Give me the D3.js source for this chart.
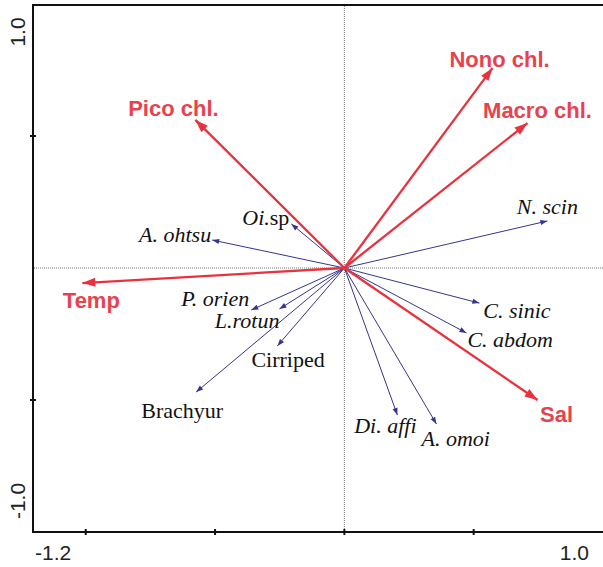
<!DOCTYPE html>
<html>
<head>
<meta charset="utf-8">
<script src="https://cdn.jsdelivr.net/npm/d3@7"></script>
<style>
  html, body { margin: 0; padding: 0; background: #fff; }
</style>
</head>
<body>
<div id="chartContainer"></div>
<script>
// Environmental variables (red arrows)
const envNames = ["Pico chl.", "Nono chl.", "Macro chl.", "Temp", "Sal"];
const envX = [-0.576, 0.573, 0.708, -1.013, 0.747];
const envY = [0.561, 0.758, 0.549, -0.057, -0.500];

// Species (blue arrows)
const spNames = ["A. ohtsu", "Oi.sp", "P. orien", "L.rotun", "Cirriped", "Brachyur",
                 "N. scin", "C. sinic", "C. abdom", "Di. affi", "A. omoi"];
// italic part of each name (rest is roman)
const spItalic = ["A. ohtsu", "Oi.", "P. orien", "L.rotun", "", "",
                  "N. scin", "C. sinic", "C. abdom", "Di. affi", "A. omoi"];
const spX = [-0.511, -0.205, -0.360, -0.251, -0.259, -0.573, 0.785, 0.522, 0.472, 0.205, 0.356];
const spY = [0.106, 0.167, -0.159, -0.155, -0.295, -0.470, 0.178, -0.133, -0.246, -0.557, -0.591];

// axis ticks
const xTicks = [-1.0, -0.5, 0, 0.5];
const yTicks = [-0.5, 0.5];
const xTickLabels = ["-1.2", "1.0"];
const yTickLabels = ["-1.0", "1.0"];

// label placement relative to arrow tip (px): [dx, dy, anchor]
const envLabelPos = [[-22, -4, "middle"], [7, -1, "middle"], [10, -5, "middle"], [9, 25, "middle"], [19, 22, "middle"]];
const spLabelPos = [[-1, 2, "end"], [-2, 1, "end"], [-2, -4, "end"], [0, 19, "end"], [-26, 21, "start"],
                    [-14, 26, "middle"], [0, -7, "middle"], [4, 15, "start"], [1, 14, "start"],
                    [-12, 18, "middle"], [-15, 22, "start"]];

const w = 603;
const h = 567;
const red = "#e8323e";
const blue = "#35358c";

const svg = d3.select("#chartContainer")
  .append("svg")
    .attr("width", w)
    .attr("height", h);

const x = d3.scaleLinear().domain([-1.2, 1.0]).range([34, 603]);
const y = d3.scaleLinear().domain([-1.0, 1.0]).range([532, 4]);

// Arrow markers
const defs = svg.append("defs");
defs.append("marker")
  .attr("id", "headRed")
  .attr("markerUnits", "userSpaceOnUse")
  .attr("viewBox", "-14 -6 15 12")
  .attr("refX", 0).attr("refY", 0)
  .attr("markerWidth", 15).attr("markerHeight", 12)
  .attr("orient", "auto")
  .append("path")
    .attr("d", "M0,0 L-13,-4.5 L-13,4.5 Z")
    .attr("fill", red);
defs.append("marker")
  .attr("id", "headBlue")
  .attr("markerUnits", "userSpaceOnUse")
  .attr("viewBox", "-8 -4 9 8")
  .attr("refX", 0).attr("refY", 0)
  .attr("markerWidth", 9).attr("markerHeight", 8)
  .attr("orient", "auto")
  .append("path")
    .attr("d", "M0,0 L-7,-2.6 L-7,2.6 Z")
    .attr("fill", blue);

// Dotted zero lines
svg.append("line")
  .attr("x1", x(0)).attr("x2", x(0))
  .attr("y1", y(1.0)).attr("y2", y(-1.0))
  .attr("stroke", "#777").attr("stroke-width", 1)
  .attr("stroke-dasharray", "1,1");
svg.append("line")
  .attr("x1", x(-1.2)).attr("x2", x(1.0))
  .attr("y1", y(0)).attr("y2", y(0))
  .attr("stroke", "#777").attr("stroke-width", 1)
  .attr("stroke-dasharray", "1,1");

// Frame: left, bottom, top
const frame = svg.append("g").attr("stroke", "#111").attr("stroke-width", 2);
frame.append("line").attr("x1", 33).attr("x2", 33).attr("y1", 4).attr("y2", 533);
frame.append("line").attr("x1", 32).attr("x2", 603).attr("y1", 532).attr("y2", 532);
frame.append("line").attr("x1", 32).attr("x2", 603).attr("y1", 5).attr("y2", 5);

// Ticks
frame.selectAll(".xtick")
  .data(xTicks)
  .enter()
  .append("line")
    .attr("x1", d => x(d)).attr("x2", d => x(d))
    .attr("y1", 529).attr("y2", 535);
frame.selectAll(".ytick")
  .data(yTicks)
  .enter()
  .append("line")
    .attr("x1", 30).attr("x2", 36)
    .attr("y1", d => y(d)).attr("y2", d => y(d));

// Tick labels
const tickFont = "Arial, 'Liberation Sans', sans-serif";
svg.append("text")
  .text(xTickLabels[0])
  .attr("x", 35).attr("y", 560)
  .attr("font-family", tickFont).attr("font-size", 21)
  .attr("fill", "#222");
svg.append("text")
  .text(xTickLabels[1])
  .attr("x", 589).attr("y", 560)
  .attr("text-anchor", "end")
  .attr("font-family", tickFont).attr("font-size", 21)
  .attr("fill", "#222");
svg.append("text")
  .text(yTickLabels[1])
  .attr("transform", "translate(25,32) rotate(-90)")
  .attr("text-anchor", "middle")
  .attr("font-family", tickFont).attr("font-size", 21)
  .attr("fill", "#222");
svg.append("text")
  .text(yTickLabels[0])
  .attr("transform", "translate(25,501) rotate(-90)")
  .attr("text-anchor", "middle")
  .attr("font-family", tickFont).attr("font-size", 21)
  .attr("fill", "#222");

// Species arrows
svg.selectAll(".sp")
  .data(spNames)
  .enter()
  .append("line")
    .attr("class", "sp")
    .attr("x1", x(0)).attr("y1", y(0))
    .attr("x2", (d, i) => x(spX[i]))
    .attr("y2", (d, i) => y(spY[i]))
    .attr("stroke", blue)
    .attr("stroke-width", 1)
    .attr("marker-end", "url(#headBlue)");

const spText = svg.selectAll(".spLabel")
  .data(spNames)
  .enter()
  .append("text")
    .attr("class", "spLabel")
    .attr("x", (d, i) => x(spX[i]) + spLabelPos[i][0])
    .attr("y", (d, i) => y(spY[i]) + spLabelPos[i][1])
    .attr("text-anchor", (d, i) => spLabelPos[i][2])
    .attr("font-family", "'Liberation Serif', 'Times New Roman', serif")
    .attr("font-size", 22)
    .attr("fill", "#111");
spText.append("tspan")
  .attr("font-style", "italic")
  .text((d, i) => spItalic[i]);
spText.append("tspan")
  .text((d, i) => d.slice(spItalic[i].length));

// Environmental arrows
svg.selectAll(".env")
  .data(envNames)
  .enter()
  .append("line")
    .attr("class", "env")
    .attr("x1", x(0)).attr("y1", y(0))
    .attr("x2", (d, i) => x(envX[i]))
    .attr("y2", (d, i) => y(envY[i]))
    .attr("stroke", red)
    .attr("stroke-width", 2.3)
    .attr("marker-end", "url(#headRed)");

svg.selectAll(".envLabel")
  .data(envNames)
  .enter()
  .append("text")
    .attr("class", "envLabel")
    .attr("x", (d, i) => x(envX[i]) + envLabelPos[i][0])
    .attr("y", (d, i) => y(envY[i]) + envLabelPos[i][1])
    .attr("text-anchor", (d, i) => envLabelPos[i][2])
    .attr("font-family", "Arial, 'Liberation Sans', sans-serif")
    .attr("font-weight", "bold")
    .attr("font-size", 22)
    .attr("fill", "#e8434d")
    .text(d => d);
</script>
</body>
</html>
